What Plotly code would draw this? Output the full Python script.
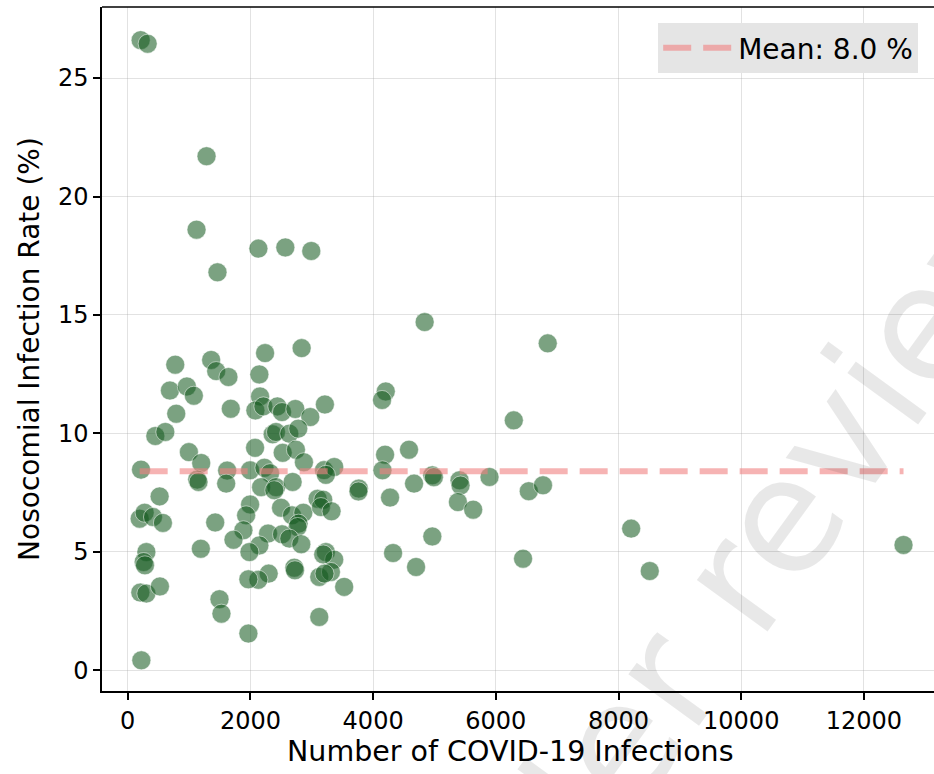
import plotly.graph_objects as go

# Data
infections = [
    211, 325, 1285, 1122, 1463, 2130, 2569, 2992, 4840, 6846,
    775, 1360, 1442, 1642, 2239, 2835, 688, 964, 1078, 2146,
    791, 1680, 2157, 2081, 2211, 2439, 2515, 2732, 2976, 3214,
    4206, 4146, 6293, 450, 613, 2363, 2417, 2634, 2780, 2076,
    997, 1198, 2526, 2742, 2872, 4195, 4585, 217, 1133, 1154,
    1621, 1605, 1995, 2228, 2320, 2174, 2418, 2688, 3200, 3366,
    3230, 3767, 4152, 4667, 4965, 4990, 5409, 5425, 5897, 520,
    195, 276, 412, 574, 1426, 1192, 1995, 1930, 1886, 1724,
    2390, 2499, 2678, 2862, 2785, 2769, 2288, 2515, 2634, 2829,
    2146, 1984, 3095, 3187, 3149, 3322, 3761, 4276, 3230, 3366,
    3187, 3122, 3312, 3208, 3528, 2715, 2726, 2298, 2130, 1967,
    4325, 4700, 304, 260, 281, 206, 304, 525, 1496, 1528,
    1967, 3122, 222, 5382, 5631, 6537, 6769, 4965, 6444, 8206,
    8509, 12645,
]
rates = [
    26.6, 26.45, 21.7, 18.6, 16.8, 17.8, 17.85, 17.7, 14.7, 13.8,
    12.9, 13.1, 12.63, 12.38, 13.39, 13.6, 11.81, 11.98, 11.59, 12.49,
    10.83, 11.04, 11.56, 10.97, 11.14, 11.14, 10.9, 11.03, 10.69, 11.22,
    11.77, 11.41, 10.55, 9.89, 10.06, 9.96, 10.06, 9.99, 10.2, 9.39,
    9.21, 8.75, 9.18, 9.31, 8.78, 9.1, 9.31, 8.47, 8.05, 7.95,
    8.43, 7.88, 8.44, 8.55, 8.32, 7.73, 7.73, 7.95, 8.45, 8.58,
    8.25, 7.67, 8.44, 7.88, 8.23, 8.15, 8.02, 7.8, 8.16, 7.34,
    6.4, 6.65, 6.47, 6.22, 6.24, 5.13, 7.0, 6.54, 5.91, 5.51,
    7.6, 6.86, 6.54, 6.65, 6.19, 6.05, 5.77, 5.74, 5.56, 5.32,
    5.27, 4.99, 7.24, 7.2, 6.89, 6.71, 7.55, 7.29, 4.99, 4.67,
    4.89, 3.94, 4.15, 4.08, 3.52, 4.33, 4.22, 4.08, 3.82, 3.84,
    4.95, 4.36, 4.99, 4.57, 4.43, 3.28, 3.24, 3.54, 3.0, 2.39,
    1.55, 2.25, 0.42, 7.1, 6.78, 7.56, 7.81, 5.65, 4.71, 5.98,
    4.19, 5.29,
]
mean_line_y = 8.4
mean_label = "Mean: 8.0 %"
x_ticks = [0, 2000, 4000, 6000, 8000, 10000, 12000]
x_tick_labels = ["0", "2000", "4000", "6000", "8000", "10000", "12000"]
y_ticks = [0, 5, 10, 15, 20, 25]
y_tick_labels = ["0", "5", "10", "15", "20", "25"]

FONT = "DejaVu Sans"

fig = go.Figure()
fig.add_trace(go.Scatter(
    x=infections, y=rates, mode="markers", showlegend=False,
    marker=dict(size=19, color="rgba(20,90,30,0.56)",
                line=dict(color="rgba(255,255,255,0.5)", width=1)),
))
fig.add_trace(go.Scatter(
    x=[min(infections), max(infections)], y=[mean_line_y, mean_line_y],
    mode="lines", name=mean_label,
    line=dict(color="rgba(240,128,128,0.6)", width=6, dash="28px,12px"),
))

fig.add_annotation(
    text="Under review", xref="paper", yref="paper", x=0.733, y=0.114,
    xanchor="center", yanchor="middle", textangle=-54, showarrow=False,
    font=dict(family=FONT, size=160, color="rgba(0,0,0,0.09)"),
)
fig.add_annotation(
    text="Number of COVID-19 Infections", xref="paper", yref="paper",
    x=0.491, y=-0.089, xanchor="center", yanchor="middle", showarrow=False,
    font=dict(family=FONT, size=28.5, color="black"),
)

axis_common = dict(
    showline=True, linecolor="black", linewidth=1.5,
    ticks="outside", ticklen=7, tickwidth=1.5, tickcolor="black",
    showgrid=True, gridcolor="rgba(160,160,160,0.3)", gridwidth=1.3,
    zeroline=False, tickfont=dict(family=FONT, size=24, color="black"),
)
fig.update_xaxes(
    range=[-419, 13142], tickvals=x_ticks, ticktext=x_tick_labels, mirror=False,
    **axis_common,
)
fig.update_yaxes(
    range=[-0.875, 28.0], tickvals=y_ticks, ticktext=y_tick_labels,
    title=dict(text="Nosocomial Infection Rate (%)",
               font=dict(family=FONT, size=28, color="black"), standoff=10),
    **axis_common,
)
# top spine
fig.add_shape(type="line", xref="paper", yref="paper", x0=0, x1=1, y0=1, y1=1,
              line=dict(color="black", width=1.5))

fig.update_layout(
    width=934, height=774,
    margin=dict(l=102, r=0, t=7, b=83),
    plot_bgcolor="white", paper_bgcolor="white",
    legend=dict(x=0.981, y=0.9766, xanchor="right", yanchor="top",
                bgcolor="#e5e5e5", borderwidth=0, itemwidth=70,
                font=dict(family=FONT, size=28, color="black")),
)
fig.write_html("out.html")
